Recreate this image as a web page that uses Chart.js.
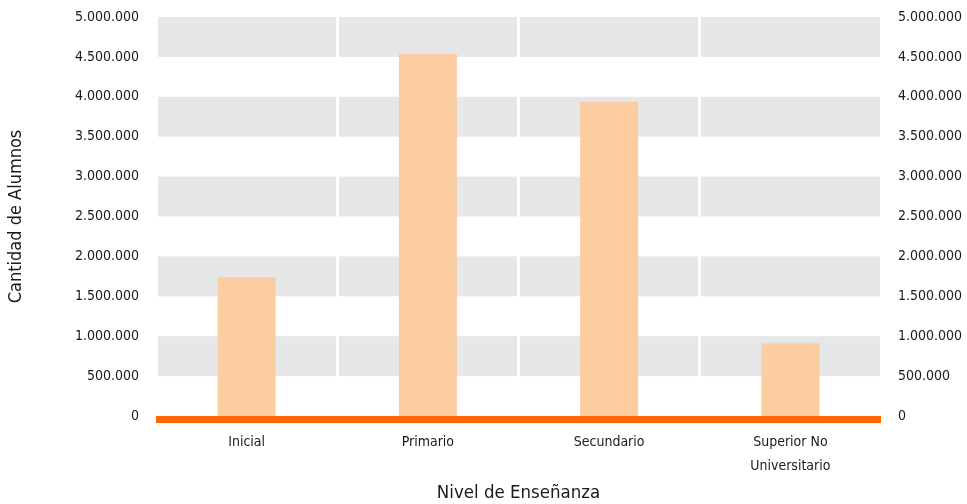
<!DOCTYPE html>
<html>
<head>
<meta charset="utf-8">
<script src="https://cdn.jsdelivr.net/npm/chart.js@4/dist/chart.umd.min.js"></script>
<style>
  html, body { margin: 0; padding: 0; background: #fff; }
  #wrap { width: 967px; height: 504px; }
</style>
</head>
<body>
<div id="wrap"><canvas id="chart"></canvas></div>
<script>
const categories = [["Inicial"], ["Primario"], ["Secundario"], ["Superior No", "Universitario"]];
const alumnos = [1740000, 4540000, 3940000, 912000];
const yMax = 5000000;
const yStep = 500000;

const fontFamily = "'DejaVu Sans Condensed', 'Liberation Sans Narrow', sans-serif";
const textColor = "#1a1a1a";

const fmt = (v) => String(v).replace(/\B(?=(\d{3})+(?!\d))/g, ".");

// grey bands on every other 500.000 interval, plus orange base line
const bandsPlugin = {
  id: "bands",
  beforeDraw(chart) {
    const { ctx, chartArea, scales } = chart;
    const y = scales.y;
    ctx.save();
    ctx.fillStyle = "#e6e7e8";
    for (let v = yStep; v < yMax; v += 2 * yStep) {
      const top = y.getPixelForValue(v + yStep);
      const bottom = y.getPixelForValue(v);
      ctx.fillRect(chartArea.left, top, chartArea.right - chartArea.left, bottom - top);
    }
    ctx.restore();
  },
  afterDatasetsDraw(chart) {
    const { ctx, chartArea, scales } = chart;
    const zero = scales.y.getPixelForValue(0);
    ctx.save();
    ctx.fillStyle = "#ff6600";
    ctx.fillRect(chartArea.left, zero, chartArea.right - chartArea.left, 7);
    ctx.restore();
  },
};

// fixed axis sizes so the plot area lands where the original has it
const fixY = (w) => (scale) => {
  scale.width = w;
  scale.paddingTop = 0;
  scale.paddingBottom = 0;
};

new Chart(document.getElementById("chart"), {
  type: "bar",
  data: {
    labels: categories,
    datasets: [
      {
        data: alumnos,
        backgroundColor: "#fdcda2",
        barPercentage: 0.32,
        categoryPercentage: 1,
      },
    ],
  },
  options: {
    responsive: true,
    maintainAspectRatio: false,
    animation: false,
    layout: { padding: { top: 17, right: 0, left: 6, bottom: 0 } },
    plugins: {
      legend: { display: false },
      tooltip: { enabled: false },
    },
    scales: {
      x: {
        offset: true,
        afterFit: (scale) => {
          scale.height = 88;
          scale.paddingLeft = 0;
          scale.paddingRight = 0;
        },
        grid: {
          offset: true,
          color: "#ffffff",
          lineWidth: 3,
          drawTicks: false,
        },
        border: { display: false },
        ticks: {
          color: textColor,
          font: { family: fontFamily, size: 14, lineHeight: 1.75 },
          padding: 14,
          maxRotation: 0,
        },
        title: {
          display: true,
          text: "Nivel de Enseñanza",
          color: textColor,
          font: { family: fontFamily, size: 18.5 },
          padding: { top: 0, bottom: 0 },
        },
      },
      y: {
        min: 0,
        max: yMax,
        afterFit: fixY(150),
        grid: { display: false, drawTicks: false },
        border: { display: false },
        ticks: {
          stepSize: yStep,
          color: textColor,
          font: { family: fontFamily, size: 14 },
          padding: 17,
          callback: (v) => fmt(v),
        },
        title: {
          display: true,
          text: "Cantidad de Alumnos",
          color: textColor,
          font: { family: fontFamily, size: 18 },
          padding: { top: 0, bottom: 0 },
        },
      },
      y2: {
        position: "right",
        min: 0,
        max: yMax,
        afterFit: fixY(86),
        grid: { display: false, drawTicks: false },
        border: { display: false },
        ticks: {
          stepSize: yStep,
          color: textColor,
          font: { family: fontFamily, size: 14 },
          padding: 17,
          callback: (v) => fmt(v),
        },
      },
    },
  },
  plugins: [bandsPlugin],
});
</script>
</body>
</html>
